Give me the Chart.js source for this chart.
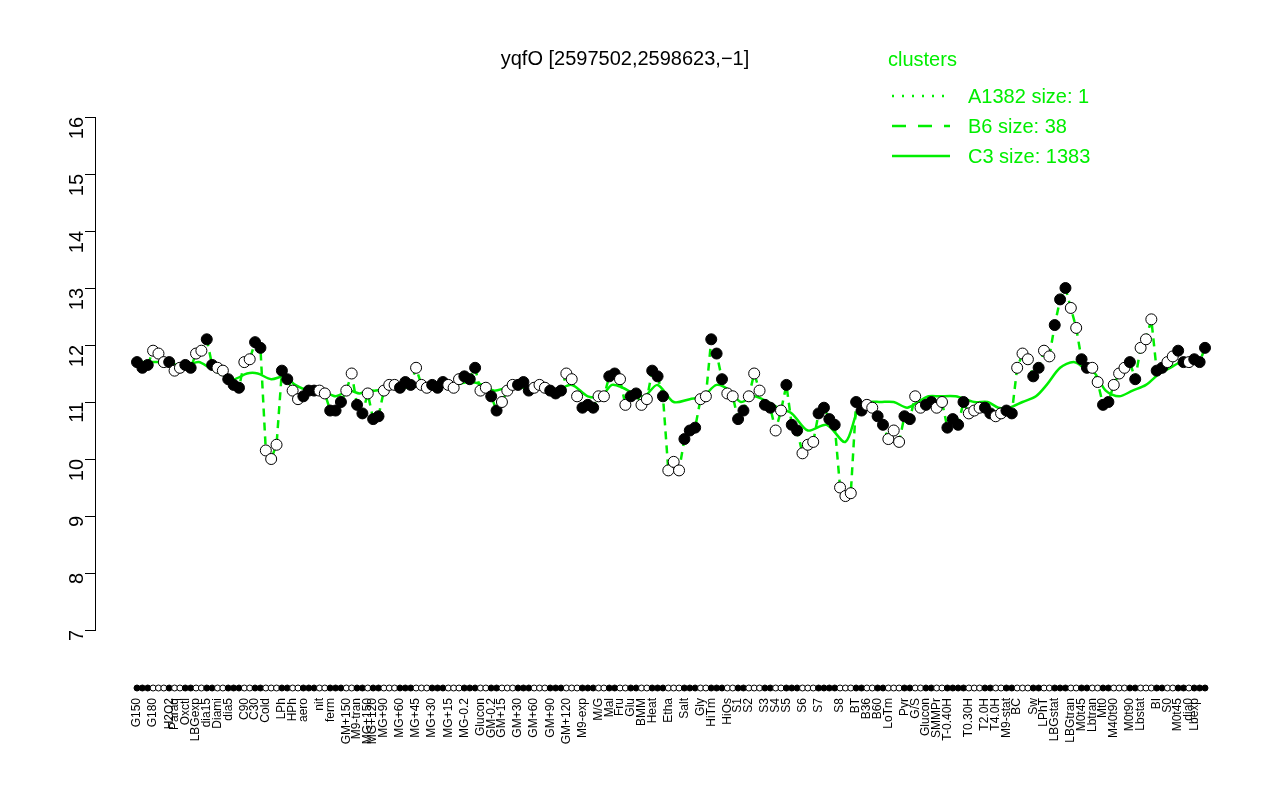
<!DOCTYPE html><html><head><script src="https://cdn.jsdelivr.net/npm/chart.js@4"></script>
<style>body{margin:0;background:#fff}canvas{display:block}</style></head><body>
<canvas id="c" width="1280" height="800"></canvas>
<script>
const groupLabels=["G150","G180","H2O2","Paraq","Oxctl","LBGexp","dia15","Diami","dia5","C90","C30","Cold","LPh","HPh","aero","nit","ferm","GM+150","M9-tran","MG+150","MG+120","MG+90","MG+60","MG+45","MG+30","MG+15","MG-0.2","Glucon","GM-0.2","GM+15","GM+30","GM+60","GM+90","GM+120","M9-exp","M/G","Mal","Fru","Glu","BMM","Heat","Etha","Salt","Gly","HiTm","HiOs","S1","S2","S3","S4","S5","S6","S7","S8","BT","B36","B60","LoTm","Pyr","G/S","Glucon","SMMPr","T-0.40H","T0.30H","T2.0H","T4.0H","M9-stat","BC","Sw","LPhT","LBGstat","LBGtran","M0t45","Lbtran","Mt0","M40t90","M0t90","Lbstat","BI","S0","M0t45","dia0","Lbexp"];
const groupValues=[[11.7,11.6,11.65],[11.9,11.85,11.7],[11.7],[11.55,11.6],[11.65,11.6],[11.85,11.9],[12.1,11.65],[11.6,11.55],[11.4,11.3,11.25],[11.7,11.75],[12.05,11.95],[10.15,10.0,10.25],[11.55,11.4],[11.2,11.05],[11.1,11.2,11.2],[11.2,11.15],[10.85,10.85,11.0],[11.2,11.5],[10.95,10.8],[11.15],[10.7,10.75],[11.2,11.3,11.3],[11.25,11.35,11.3],[11.6,11.3,11.25],[11.3,11.25,11.35],[11.3,11.25,11.4],[11.45,11.4,11.6],[11.2,11.25],[11.1,10.85],[11.0,11.2,11.3],[11.3,11.35,11.2],[11.25,11.3,11.25],[11.2,11.15,11.2],[11.5,11.4,11.1],[10.9,10.95,10.9],[11.1,11.1],[11.45,11.5],[11.4,10.95],[11.1,11.15],[10.95,11.05],[11.55,11.45,11.1],[9.8,9.95,9.8],[10.35,10.5,10.55],[11.05,11.1],[12.1,11.85,11.4],[11.15,11.1],[10.7,10.85],[11.1,11.5,11.2],[10.95,10.9],[10.5,10.85],[11.3,10.6,10.5],[10.1,10.25,10.3],[10.8,10.9,10.7,10.6],[9.5,9.35,9.4],[11.0,10.85],[10.95,10.9],[10.75,10.6],[10.35,10.5,10.3],[10.75,10.7],[11.1,10.9],[10.95,11.0],[10.9,11.0],[10.55,10.7,10.6,11.0],[10.8,10.85,10.9],[10.9,10.8],[10.75,10.8],[10.85,10.8],[11.6,11.85,11.75],[11.45,11.6],[11.9,11.8],[12.35,12.8,13.0],[12.65,12.3],[11.75,11.6],[11.6,11.35],[10.95,11.0],[11.3,11.5,11.6],[11.7,11.4],[11.95,12.1,12.45],[11.55,11.6],[11.7,11.8],[11.9,11.7],[11.7],[11.75,11.7,11.95]];
const c3Level=[11.7,11.7,11.7,11.65,11.65,11.7,11.6,11.5,11.4,11.5,11.5,11.4,11.45,11.3,11.2,11.2,11.1,11.2,11.15,11.2,11.2,11.25,11.25,11.3,11.3,11.3,11.35,11.3,11.2,11.25,11.25,11.25,11.2,11.3,11.1,11.1,11.3,11.25,11.15,11.1,11.3,11.0,11.05,11.1,11.3,11.2,11.0,11.1,11.0,10.9,10.8,10.5,10.6,10.3,10.9,11.0,11.0,11.0,10.9,11.0,11.1,11.1,11.1,11.0,11.0,10.9,10.9,11.0,11.1,11.3,11.6,11.7,11.6,11.5,11.2,11.1,11.2,11.3,11.5,11.6,11.7,11.7,11.7];
const yTicks=[7,8,9,10,11,12,13,14,15,16];

const pts=[],labelsAt={},c3=[],b6=[],fills=[];
let i=0;
groupLabels.forEach((g,k)=>{const start=i;groupValues[k].forEach(v=>{pts.push({x:i,y:v});b6.push({x:i,y:v});fills.push(k%2?'#fff':'#000');i++;});
 labelsAt[start]=g;c3.push({x:(start+i-1)/2,y:c3Level[k]});});
const N=i;
const ppu=(1205-137)/(N-1);
const xMin=-(137-95)/ppu, xMax=N-1+(1215-1205)/ppu;
const legendPlugin={id:'lg',afterDraw(ch){const c=ch.ctx;c.save();
 c.fillStyle='#000';c.font='20px "Liberation Sans",Arial';c.textAlign='center';c.fillText('yqfO [2597502,2598623,−1]',625,65);
 c.fillStyle='#00ee00';c.strokeStyle='#00ee00';c.textAlign='left';
 c.fillText('clusters',888,66);const rows=[['A1382 size: 1',[2,8]],['B6 size: 38',[14,12]],['C3 size: 1383',[]]];
 rows.forEach((r,j)=>{const y=96+j*30;c.lineWidth=2.5;c.setLineDash(r[1]);c.beginPath();c.moveTo(892,y);c.lineTo(950,y);c.stroke();c.setLineDash([]);c.fillText(r[0],968,y+7);});
 c.strokeStyle='#000';c.lineWidth=1;const xs=ch.scales.x;
 pts.forEach((p,j)=>{c.fillStyle=fills[j];c.beginPath();c.arc(xs.getPixelForValue(p.x),688,3,0,7);c.fill();c.stroke();});
 c.restore();}};
new Chart(document.getElementById('c'),{type:'scatter',data:{datasets:[
 {type:'line',data:c3,borderColor:'#00ee00',borderWidth:2.5,pointRadius:0,tension:0.3,order:3},
 {type:'line',data:b6,borderColor:'#00ee00',borderWidth:2.5,borderDash:[8,6],pointRadius:0,order:2},
 {data:pts,pointRadius:5.5,pointBackgroundColor:fills,pointBorderColor:'#000',borderWidth:1,order:1}]},
 options:{responsive:false,animation:false,devicePixelRatio:1,layout:{padding:{top:117,right:65,left:0,bottom:0}},
 plugins:{legend:{display:false},tooltip:{enabled:false}},
 scales:{x:{type:'linear',min:xMin,max:xMax,grid:{display:false},border:{display:false},
  afterFit(s){s.height=170;},
  afterBuildTicks(s){s.ticks=Object.keys(labelsAt).map(k=>({value:+k}));},
  ticks:{autoSkip:false,maxRotation:90,minRotation:90,padding:60,font:{size:12,family:'"Liberation Sans",Arial'},color:'#000',callback:v=>labelsAt[v]||''}},
 y:{min:7,max:16,grid:{display:true,drawOnChartArea:false,color:'#000',tickLength:10},border:{display:true,color:'#000'},afterFit(s){s.width=95;},
  afterBuildTicks(s){s.ticks=yTicks.map(v=>({value:v}));},
  ticks:{font:{size:20,family:'"Liberation Sans",Arial'},color:'#000',maxRotation:90,minRotation:90,padding:8}}}},
 plugins:[legendPlugin]});
</script></body></html>
